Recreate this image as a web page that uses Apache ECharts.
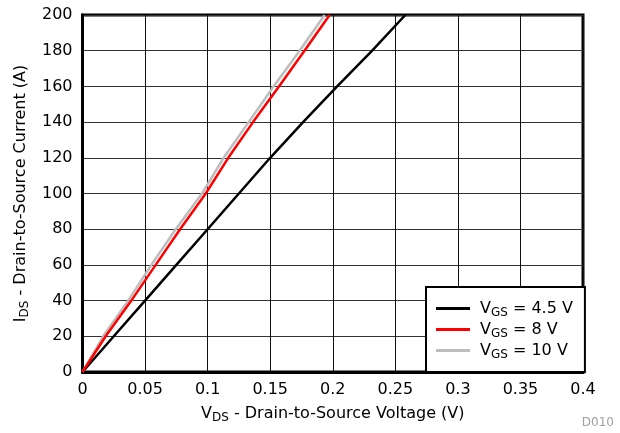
<!DOCTYPE html>
<html>
<head>
<meta charset="utf-8">
<script src="https://cdn.jsdelivr.net/npm/echarts@6/dist/echarts.min.js"></script>
<style>html,body{margin:0;padding:0;background:#fff}#c{width:620px;height:433px}</style>
</head>
<body>
<div id="c"></div>
<script>
// Series data: [VDS (V), IDS (A)]
var vgs45 = [[0,0],[0.025,20],[0.05,40],[0.075,60],[0.1,80],[0.125,100],[0.15,120],[0.1763,140],[0.2035,160],[0.2315,180],[0.258,200]];
var vgs8  = [[0,0],[0.0185,20],[0.039,40],[0.0585,60],[0.078,80],[0.0985,100],[0.1165,120],[0.1363,140],[0.157,160],[0.1774,180],[0.1975,200]];
var vgs10 = [[0,0],[0.0165,20],[0.0365,40],[0.055,60],[0.0745,80],[0.0955,100],[0.1128,120],[0.1328,140],[0.1527,160],[0.1735,180],[0.1935,200]];
var seriesNames = ['VGS = 4.5 V','VGS = 8 V','VGS = 10 V'];
var legendLabels = ['{g|}{a|V}{s|GS}{a| = 4.5 V}','{g|}{a|V}{s|GS}{a| = 8 V}','{g|}{a|V}{s|GS}{a| = 10 V}'];
var xTicks = {min:0, max:0.4, interval:0.05};
var yTicks = {min:0, max:200, interval:20};

var font = 'DejaVu Sans, Verdana, sans-serif';
var chart = echarts.init(document.getElementById('c'), null, {renderer:'canvas'});
var rich = {
  g:{width:5},
  a:{fontSize:16, fontFamily:font, color:'#000'},
  s:{fontSize:12, fontFamily:font, color:'#000', verticalAlign:'bottom', padding:[8,0,0,0]}
};
chart.setOption({
  animation:false,
  backgroundColor:'#fff',
  grid:{left:82.5, right:37, top:15, bottom:61, show:true, borderColor:'#000', borderWidth:3, backgroundColor:'transparent', containLabel:false},
  xAxis:{
    type:'value', min:xTicks.min, max:xTicks.max, interval:xTicks.interval,
    axisLine:{show:true, lineStyle:{color:'#000', width:3}},
    axisTick:{show:false},
    axisLabel:{color:'#000', fontSize:16, fontFamily:font, margin:10},
    splitLine:{show:true, lineStyle:{color:'#111', width:1}},
    name:'{a|V}{s|DS}{a| - Drain-to-Source Voltage (V)}',
    nameLocation:'middle', nameGap:32,
    nameTextStyle:{rich:rich}
  },
  yAxis:{
    type:'value', min:yTicks.min, max:yTicks.max, interval:yTicks.interval,
    axisLine:{show:true, lineStyle:{color:'#000', width:3}},
    axisTick:{show:false},
    axisLabel:{color:'#000', fontSize:16, fontFamily:font, margin:10},
    splitLine:{show:true, lineStyle:{color:'#333', width:1}},
    name:'{a|I}{s|DS}{a| - Drain-to-Source Current (A)}',
    nameLocation:'middle', nameGap:52, nameRotate:90,
    nameTextStyle:{rich:rich}
  },
  legend:{
    orient:'vertical', left:426, top:287,
    padding:[11,12,11,10], itemGap:0,
    itemWidth:34, itemHeight:3, icon:'rect',
    backgroundColor:'#fff', borderColor:'#000', borderWidth:2,
    data:seriesNames,
    formatter:function(n){ return legendLabels[seriesNames.indexOf(n)]; },
    textStyle:{lineHeight:21, rich:rich}
  },
  series:[
    {name:seriesNames[0], type:'line', data:vgs45, showSymbol:false, symbol:'none', lineStyle:{color:'#000', width:2.5}, itemStyle:{color:'#000'}, z:4},
    {name:seriesNames[1], type:'line', data:vgs8, showSymbol:false, symbol:'none', lineStyle:{color:'#ff0000', width:2.5}, itemStyle:{color:'#ff0000'}, z:5},
    {name:seriesNames[2], type:'line', data:vgs10, showSymbol:false, symbol:'none', lineStyle:{color:'#bdbdbd', width:2.5}, itemStyle:{color:'#bdbdbd'}, z:3}
  ],
  graphic:[{type:'text', right:6, bottom:4, style:{text:'D010', fill:'#a0a0a0', font:'12px '+font}}]
});
</script>
</body>
</html>
